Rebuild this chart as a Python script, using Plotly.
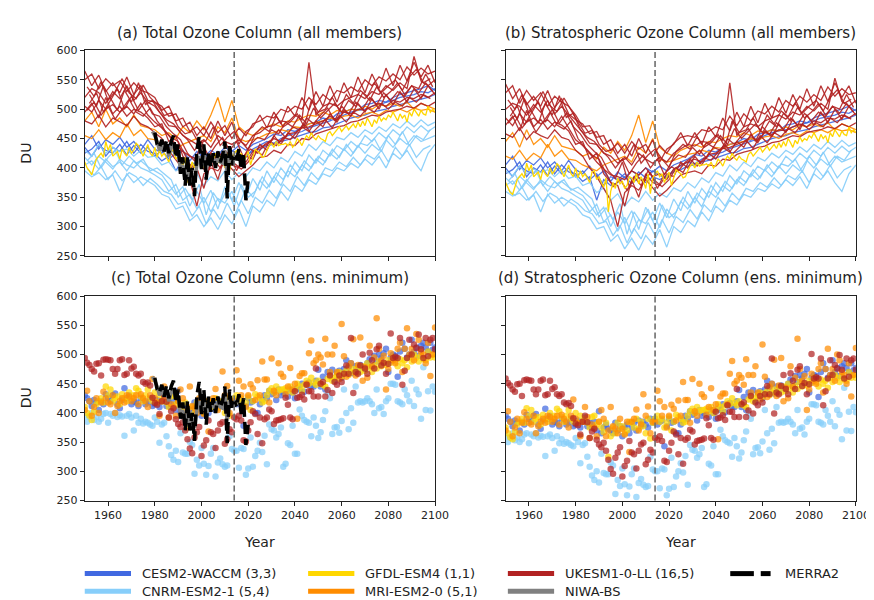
import plotly.graph_objects as go

W, H = 874, 600
years = list(range(1950, 2101))
years3 = list(range(1950, 2101, 3))
years3b = list(range(1951, 2101, 3))
years3c = list(range(1952, 2101, 3))

model_names = ["CESM2-WACCM (3,3)", "CNRM-ESM2-1 (5,4)", "GFDL-ESM4 (1,1)", "MRI-ESM2-0 (5,1)", "UKESM1-0-LL (16,5)", "NIWA-BS", "MERRA2"]
colors = {"CESM": "#4169E1", "CNRM": "#87CEFA", "GFDL": "#FFD700", "MRI": "#FF8C00", "UKESM": "#B22222", "NIWA": "#808080", "MERRA2": "#000000"}

# ---------------- panel (a): total column, members (every 3 years) ----------------
ukesm_tot_members = [
    [550,560,535,552,540,548,530,545,532,528,520,498,505,480,485,462,470,455,478,460,472,450,468,455,475,480,488,485,500,495,505,500,520,508,525,515,532,528,538,530,550,540,555,548,560,550,572,558,570,560,565],
    [520,535,528,510,530,518,540,515,528,512,505,490,472,470,455,448,440,448,435,455,445,440,448,438,455,460,470,472,480,478,490,482,580,490,505,510,505,515,520,525,518,530,525,540,532,545,535,590,548,540,550],
    [505,495,515,500,508,495,505,492,510,490,478,468,455,440,428,420,415,410,425,418,430,415,420,410,428,435,440,450,445,458,460,468,470,475,480,488,482,495,492,500,498,505,510,505,515,512,520,518,525,520,528],
    [480,475,490,470,485,478,472,488,475,470,460,450,430,415,398,380,335,390,400,395,410,398,385,395,405,418,420,430,425,440,438,450,448,458,462,465,470,472,478,480,485,490,488,495,498,500,505,502,510,505,512],
    [565,540,558,530,545,528,555,525,540,515,512,505,488,492,470,478,455,470,450,480,455,478,440,462,470,490,468,495,475,505,488,520,498,530,505,540,512,545,520,555,528,560,535,570,540,575,548,580,555,575,545],
    [495,510,485,520,492,505,488,500,495,485,470,475,445,455,420,405,400,365,410,380,420,405,400,420,415,440,430,455,440,460,450,470,462,480,470,492,478,498,488,510,495,518,500,525,508,530,512,535,518,540,525],
]
ukesm_tot_members_b = [  # sampled on years3b
    [538,522,547,515,530,552,528,518,541,520,508,489,494,470,458,462,441,447,470,438,452,462,445,431,458,470,462,488,470,478,492,470,515,495,500,520,498,525,510,532,522,545,528,540,550,532,555,568,545,552],
    [498,512,490,505,483,500,517,495,488,502,480,465,452,445,420,398,410,392,415,400,425,408,398,410,430,422,445,438,452,448,462,475,458,470,482,468,490,478,495,488,502,495,510,500,512,505,520,512,525,518],
]
ukesm_tot_members_c = [  # sampled on years3c
    [525,505,540,518,498,532,512,545,508,515,495,482,475,460,448,430,445,420,438,452,430,445,418,440,452,448,465,458,478,470,490,475,502,485,498,510,495,515,505,528,515,538,520,530,545,525,540,535,560,538],
    [510,528,495,515,535,500,522,498,515,492,488,470,458,448,425,412,440,398,418,405,422,395,420,432,425,440,448,465,452,470,465,485,475,490,502,480,505,492,512,500,520,508,528,515,530,522,540,528,545,530],
]
cnrm_tot_members = [
    [430,420,440,425,435,428,432,420,430,418,420,405,410,395,400,380,390,370,385,378,395,380,392,385,400,395,410,400,418,410,428,420,440,430,445,438,452,448,460,452,465,458,470,462,475,468,480,470,482,472,478],
    [405,412,398,415,402,410,395,412,400,395,388,380,360,372,345,355,330,350,325,348,340,360,335,365,350,378,365,385,370,395,385,405,395,415,405,425,415,432,420,438,425,440,430,448,435,450,440,455,445,450,455],
    [395,385,392,380,388,360,390,375,385,378,370,355,350,330,335,310,320,300,315,295,320,305,330,300,335,325,345,335,360,345,370,360,380,372,390,385,400,395,408,400,415,405,420,400,425,415,430,410,395,425,440],
    [418,405,420,410,398,415,405,400,412,402,395,388,372,355,368,335,360,340,362,330,368,345,375,350,382,362,395,375,400,385,410,395,422,408,430,420,438,430,445,435,455,445,460,450,465,455,470,460,472,462,470],
]
cnrm_tot_members_b = [
    [412,425,400,418,430,405,420,408,415,395,400,390,380,350,365,345,372,320,358,340,365,335,372,350,360,385,368,392,380,405,390,412,400,420,410,432,418,440,425,442,438,450,428,455,440,462,438,455,448,465],
    [398,388,402,380,395,378,392,385,370,382,372,360,355,338,342,318,335,305,330,312,340,318,345,322,350,340,362,348,372,360,385,370,392,380,400,395,410,402,418,405,422,415,430,410,435,420,440,418,432,438],
]
cesm_tot_members = [
    [440,455,432,448,440,452,435,445,430,448,432,425,438,420,430,412,428,418,430,422,435,428,438,430,440,445,450,458,455,465,462,470,475,478,485,482,492,495,500,498,508,510,515,512,520,525,528,532,535,540,532],
    [425,432,445,420,435,428,445,425,440,428,425,412,420,395,415,405,410,420,408,418,410,420,415,422,428,432,438,440,445,448,452,455,460,462,468,470,475,480,485,488,490,495,498,500,505,508,512,515,518,520,525],
    [435,420,438,430,425,440,422,438,425,435,420,430,415,425,405,420,415,425,415,428,418,430,422,418,432,438,445,442,450,455,458,462,468,472,475,480,485,490,495,498,500,505,508,512,515,520,522,525,530,528,535],
]
mri_tot_members = [
    [480,495,470,500,475,485,470,490,472,468,465,455,460,450,470,460,480,465,490,520,478,515,470,460,455,465,470,475,470,480,478,485,490,488,495,490,498,495,500,498,505,500,508,505,510,505,512,500,510,505,500],
    [455,450,465,448,460,452,475,455,465,450,448,440,435,430,440,445,450,455,445,470,460,485,450,445,448,452,458,460,465,462,470,468,475,478,480,485,482,488,490,485,492,495,490,498,495,500,495,502,498,500,495],
]

# ---------------- panel (b): stratospheric column, members (every 3 years) ----------------
ukesm_str_members = [
    [528,540,510,532,515,528,505,522,512,505,490,470,472,452,455,430,442,425,445,432,440,420,438,425,442,452,455,452,465,462,470,465,488,472,492,480,497,492,505,495,515,505,522,512,525,515,538,522,535,525,528],
    [500,510,505,490,508,495,515,492,505,490,475,460,442,440,425,420,408,418,405,425,415,408,418,410,425,432,440,437,445,443,455,447,545,455,470,475,470,480,485,490,483,495,490,505,497,510,500,553,513,505,515],
    [485,472,492,478,485,475,482,470,488,468,448,438,425,410,398,388,385,380,395,388,400,385,390,380,398,405,410,415,410,423,425,433,435,440,445,453,447,460,457,465,463,470,475,470,480,477,485,483,490,485,493],
    [458,452,468,448,462,455,450,465,452,448,430,420,400,385,365,345,300,358,370,362,380,365,352,362,375,388,392,395,390,405,403,415,413,423,427,430,435,437,443,445,450,455,453,460,463,465,470,467,475,470,477],
    [543,518,535,508,522,505,532,503,518,492,482,475,458,462,440,448,425,440,420,450,425,448,410,432,440,460,438,460,440,470,453,485,463,495,470,505,477,510,485,520,493,525,500,535,505,540,513,545,520,540,510],
    [473,488,463,498,470,483,466,478,473,463,440,445,415,425,390,375,370,335,380,350,390,375,370,390,385,410,400,420,405,425,415,435,427,445,435,457,443,463,453,475,460,483,465,490,473,495,477,500,483,505,490],
]
ukesm_str_members_b = [
    [516,500,525,493,508,530,506,496,519,498,478,459,464,440,428,432,411,417,440,408,422,432,415,401,428,440,432,453,435,443,457,435,480,460,465,485,463,490,475,497,487,510,493,505,515,497,520,533,510,517],
    [476,490,468,483,461,478,495,473,466,480,450,435,422,415,390,368,380,362,385,370,395,378,368,380,400,392,415,403,417,413,427,440,423,435,447,433,455,443,460,453,467,460,475,465,477,470,485,477,490,483],
]
ukesm_str_members_c = [
    [503,483,518,496,476,510,490,523,486,493,465,452,445,430,418,400,415,390,408,422,400,415,388,410,422,418,435,423,443,435,455,440,467,450,463,475,460,480,470,493,480,503,485,495,510,490,505,500,525,503],
    [488,506,473,493,513,478,500,476,493,470,458,440,428,418,395,382,410,368,388,375,392,365,390,402,395,410,418,430,417,435,430,450,440,455,467,445,470,457,477,465,485,473,493,480,495,487,505,493,510,495],
]
cnrm_str_members = [
    [395,387,403,390,398,392,397,385,396,382,386,370,375,358,366,345,356,335,350,342,360,345,357,350,366,360,375,366,383,375,392,386,405,395,410,402,418,412,425,417,430,423,436,427,440,432,445,435,447,437,443],
    [370,378,362,380,366,376,360,377,365,360,352,345,325,338,308,320,292,316,288,312,305,325,298,330,315,343,330,350,334,360,350,370,360,380,370,390,380,397,385,403,390,405,395,413,400,415,405,420,410,415,420],
    [360,352,357,345,354,325,355,340,350,343,335,320,315,296,300,275,286,262,280,260,285,270,295,265,300,290,310,300,325,310,335,325,345,337,355,350,365,360,373,365,380,370,385,365,390,380,395,375,360,390,405],
    [383,372,386,375,363,380,370,366,377,367,360,353,337,320,333,300,325,305,327,295,333,310,340,315,347,327,360,340,365,350,375,360,387,373,395,385,403,395,410,400,420,410,425,415,430,420,435,425,437,427,435],
]
cnrm_str_members_b = [
    [377,390,365,383,395,370,385,373,380,362,367,357,347,317,332,312,339,287,325,307,330,300,337,315,325,350,333,357,345,370,355,377,365,385,375,397,383,405,390,407,403,415,393,420,405,427,403,420,413,430],
    [363,353,367,345,360,343,357,350,335,347,339,327,322,305,309,285,302,272,297,279,307,285,312,289,317,307,329,313,337,325,350,335,357,345,365,360,375,367,383,370,387,380,395,375,400,385,405,383,397,403],
]
cesm_str_members = [
    [405,420,397,413,405,417,400,410,395,413,397,390,403,385,395,377,393,383,395,387,400,393,403,395,405,410,415,423,420,430,427,435,440,443,450,447,457,460,465,463,473,475,480,477,485,490,493,497,500,505,497],
    [390,397,410,385,400,393,410,390,405,393,390,377,385,345,380,370,375,385,373,383,375,385,380,387,393,397,403,405,410,413,417,420,425,427,433,435,440,445,450,453,455,460,463,465,470,473,477,480,483,485,490],
    [400,385,403,395,390,405,387,403,390,400,385,395,380,390,370,385,380,390,380,393,383,395,387,383,397,403,410,407,415,420,423,427,433,437,440,445,450,455,460,463,465,470,473,477,480,485,487,490,495,493,500],
]
mri_str_members = [
    [445,460,435,465,440,450,435,455,437,433,430,420,425,415,435,425,445,430,455,490,443,480,435,425,420,430,435,440,435,445,443,450,455,453,460,455,463,460,465,463,470,465,473,470,475,470,477,465,475,470,465],
    [420,415,430,413,425,417,440,420,430,415,413,405,400,395,405,410,415,420,410,435,425,450,415,410,413,417,423,425,430,427,435,433,440,443,445,450,447,453,455,450,457,460,455,463,460,465,460,467,463,465,460],
]

# ---------------- panel (c): total column, ensemble minimum (yearly) ----------------
cesm_tot_min = [430,425,420,412,422,418,405,420,415,432,425,420,430,433,415,408,422,442,425,430,
    415,420,418,412,425,422,415,418,425,412,415,422,410,420,427,412,418,410,420,405,
    438,400,410,415,408,405,400,418,405,412,395,410,415,400,410,418,405,422,412,420,
    415,410,425,418,425,415,420,422,378,412,425,418,420,400,400,415,422,430,425,438,
    432,435,422,440,430,435,438,428,440,435,425,442,440,450,436,448,452,446,445,455,
    474,445,462,440,470,465,474,455,468,472,460,475,490,478,485,468,480,470,482,478,
    475,485,492,480,498,488,500,494,502,510,470,495,500,498,462,505,520,510,495,500,
    525,505,512,498,515,520,512,505,520,508,512]
cnrm_tot_min = [395,385,393,400,388,393,385,390,398,400,383,398,395,400,393,396,394,361,395,398,
    392,370,395,383,390,382,385,383,380,378,392,385,349,380,383,360,343,328,320,335,
    316,365,332,330,330,350,345,296,320,310,340,313,294,309,330,340,291,315,322,312,
    308,310,360,338,335,335,306,340,338,294,305,358,308,326,335,349,333,361,312,380,
    372,370,358,364,375,308,313,348,345,378,330,330,406,395,388,385,383,360,392,378,
    357,367,388,403,435,425,364,375,376,366,386,440,400,372,408,383,445,418,420,418,
    420,425,420,415,400,440,408,410,398,420,425,450,450,448,420,418,415,440,430,420,
    455,412,440,432,390,478,405,437,404,445,436]
gfdl_tot = [410,400,395,388,402,415,420,425,418,445,430,440,420,425,428,415,432,425,420,435,
    425,430,442,438,428,420,430,440,425,420,435,418,430,420,425,418,410,428,430,415,
    420,410,402,418,375,395,410,400,418,408,412,400,405,420,418,410,425,408,420,412,
    400,425,395,418,425,430,420,425,410,418,428,405,420,432,428,425,418,420,430,438,
    442,435,445,438,440,440,442,438,445,435,440,450,445,438,448,455,450,460,452,448,
    455,450,448,445,458,462,455,460,465,470,462,468,472,465,470,475,468,478,470,480,
    472,485,478,470,482,476,488,480,485,482,490,486,495,488,480,492,485,490,478,495,
    488,500,495,488,498,492,490,505,495,500,495]
mri_tot_min = [405,438,420,395,410,425,400,418,436,425,418,415,430,400,412,420,425,418,430,428,
    420,425,430,415,432,425,420,410,430,458,425,418,395,420,445,428,392,415,410,395,
    420,440,425,395,405,445,412,408,400,425,408,398,420,368,420,425,441,405,415,471,
    430,446,400,420,420,473,455,430,445,410,430,449,442,422,456,430,488,457,457,418,
    493,438,430,485,467,462,432,445,477,440,450,390,463,468,468,450,502,524,485,490,
    500,495,483,527,500,470,500,515,470,458,552,497,462,480,485,526,464,482,529,455,
    478,460,515,480,495,562,510,490,498,440,475,502,490,485,510,520,470,510,545,500,
    510,490,535,525,505,500,485,520,463,500,546]
ukesm_tot_min = [494,486,482,475,471,484,485,464,491,492,491,490,475,467,475,490,492,465,467,490,
    476,479,467,464,467,453,450,452,447,426,417,414,398,420,430,419,392,403,408,389,
    381,376,384,370,355,339,331,358,367,376,326,344,353,387,367,364,340,370,381,384,
    347,355,372,367,392,389,395,387,353,351,370,384,403,398,364,392,348,389,392,406,
    403,381,387,388,389,391,426,414,392,389,437,426,427,431,423,448,437,437,428,476,
    428,450,453,428,439,464,434,453,448,464,453,467,481,467,528,434,470,467,481,500,
    476,467,503,490,476,509,515,481,486,467,484,536,494,496,494,528,448,472,494,525,
    500,517,511,534,509,494,528,497,525,528,509]

# ---------------- panel (d): stratospheric column, ensemble minimum (yearly) ----------------
cesm_str_min = [395,390,385,377,387,383,370,385,380,397,390,385,395,398,380,373,387,407,390,395,
    380,385,383,377,390,387,380,383,390,377,380,387,375,385,392,377,383,375,385,370,
    403,365,375,380,373,370,365,383,370,377,360,375,380,365,375,383,370,387,377,385,
    380,375,390,383,390,380,385,387,343,377,390,383,385,365,365,380,387,395,390,403,
    397,400,387,405,395,400,403,393,405,400,390,407,405,415,401,413,417,411,410,420,
    439,410,427,405,435,430,439,420,433,437,425,440,455,443,450,433,445,435,447,443,
    440,450,457,445,463,453,465,459,467,475,435,460,465,463,427,470,485,475,460,465,
    490,470,477,463,480,485,477,470,485,473,477]
cnrm_str_min = [360,350,358,365,353,358,350,355,363,365,348,363,360,365,358,361,359,326,360,363,
    357,335,360,348,355,347,350,348,345,343,357,350,314,345,348,325,308,293,285,300,
    281,330,297,295,295,315,310,261,285,275,305,278,259,274,295,305,256,280,287,277,
    273,275,325,303,300,300,271,305,303,259,270,323,273,291,300,314,298,326,277,345,
    337,335,323,329,340,273,278,313,310,343,295,295,371,360,353,350,348,325,357,343,
    322,332,353,368,400,390,329,340,341,331,351,405,365,337,373,348,410,383,385,383,
    385,390,385,380,365,405,373,375,363,385,390,415,415,413,385,383,380,405,395,385,
    420,377,405,397,355,443,370,402,369,410,401]
gfdl_str = [375,365,358,355,367,380,385,390,383,408,395,405,385,390,393,380,397,390,385,400,
    390,395,407,403,393,385,395,405,390,385,400,383,395,385,390,383,375,393,395,380,
    385,375,367,383,325,360,375,365,383,373,377,365,370,385,383,375,390,373,385,377,
    365,390,356,383,390,395,385,390,375,383,393,370,385,397,393,390,383,385,395,403,
    407,400,410,403,405,405,407,403,410,400,405,415,410,403,413,420,415,425,417,413,
    420,415,413,410,423,427,420,425,430,435,427,433,437,430,435,440,433,443,435,445,
    437,450,443,435,447,441,453,445,450,447,455,451,460,453,445,457,450,455,443,460,
    453,465,460,453,463,457,455,470,460,465,460]
mri_str_min = [370,403,385,360,375,390,365,383,401,390,383,380,395,365,377,385,390,383,395,393,
    385,390,395,380,397,390,385,375,395,423,390,383,360,385,410,393,357,380,375,360,
    385,405,390,360,370,410,377,373,365,390,373,363,385,333,385,390,406,370,380,432,
    395,411,365,385,385,438,420,395,410,375,395,414,407,387,421,395,453,422,422,383,
    458,403,395,450,432,427,397,410,442,405,415,355,428,433,433,415,467,489,450,455,
    465,460,448,492,465,435,465,480,435,423,517,462,427,445,450,491,429,447,494,420,
    443,425,480,445,460,527,475,455,463,405,440,467,455,450,475,485,435,475,510,465,
    475,455,500,490,470,465,450,485,428,465,511]
ukesm_str_min = [459,451,447,440,436,449,450,429,456,457,456,455,440,432,440,455,457,430,432,455,
    441,444,432,429,432,418,415,417,412,391,382,379,363,385,395,384,357,368,373,354,
    346,341,349,335,320,304,296,323,332,341,291,309,318,352,332,329,305,335,346,349,
    312,320,337,332,357,354,360,352,318,316,335,349,368,363,329,357,313,354,357,371,
    368,346,352,353,354,356,391,379,357,354,402,391,392,396,388,413,402,402,393,441,
    393,415,418,393,404,429,399,418,413,429,418,432,446,432,493,399,435,432,446,465,
    441,432,468,455,441,474,480,446,451,432,449,501,459,461,459,493,413,437,459,490,
    465,482,476,499,474,459,493,462,490,493,474]

# ---------------- observations ----------------
niwa_years = list(range(1979, 2017))
niwa_tot = [462,455,445,430,440,428,438,420,435,440,425,430,395,405,380,400,372,390,375,405,
    420,400,425,395,415,410,415,405,418,410,408,430,385,425,410,415,420,418]
merra_years = list(range(1980, 2021))
merra_tot = [460,440,435,448,428,447,425,445,455,418,440,390,418,370,420,370,400,352,430,453,
    398,440,380,428,402,425,400,428,410,420,445,348,440,405,420,410,432,398,425,345,380]

ref_year = 2014

# ---------------- layout geometry ----------------
def px(x): return x / W
def py(y): return 1 - y / H

xdom_l = [px(78), px(434)]
xdom_r = [px(505.7), px(861.7)]
ydom_t = [py(247.3), py(37.3)]
ydom_b = [py(497.3), py(288.3)]

fig = go.Figure()

def add_lines(members, xs, col, xa, ya, width=1.3, opacity=0.9):
    for m in members:
        fig.add_trace(go.Scatter(x=xs[:len(m)], y=m, mode="lines", xaxis=xa, yaxis=ya,
                                 line=dict(color=col, width=width), opacity=opacity,
                                 showlegend=False, hoverinfo="skip"))

def add_dots(vals, col, xa, ya):
    fig.add_trace(go.Scatter(x=years[:len(vals)], y=vals, mode="markers", xaxis=xa, yaxis=ya,
                             marker=dict(color=col, size=6.5, opacity=0.72, line=dict(width=0)),
                             showlegend=False, hoverinfo="skip"))

# panel (a)
add_lines(cesm_tot_members, years3, colors["CESM"], "x", "y")
add_lines(cnrm_tot_members, years3, colors["CNRM"], "x", "y")
add_lines(cnrm_tot_members_b, years3b, colors["CNRM"], "x", "y")
add_lines(mri_tot_members, years3, colors["MRI"], "x", "y")
add_lines(ukesm_tot_members, years3, colors["UKESM"], "x", "y")
add_lines(ukesm_tot_members_b, years3b, colors["UKESM"], "x", "y")
add_lines(ukesm_tot_members_c, years3c, colors["UKESM"], "x", "y")
add_lines([gfdl_tot], years, colors["GFDL"], "x", "y", width=1.3, opacity=1)
# panel (b)
add_lines(cesm_str_members, years3, colors["CESM"], "x2", "y2")
add_lines(cnrm_str_members, years3, colors["CNRM"], "x2", "y2")
add_lines(cnrm_str_members_b, years3b, colors["CNRM"], "x2", "y2")
add_lines(mri_str_members, years3, colors["MRI"], "x2", "y2")
add_lines(ukesm_str_members, years3, colors["UKESM"], "x2", "y2")
add_lines(ukesm_str_members_b, years3b, colors["UKESM"], "x2", "y2")
add_lines(ukesm_str_members_c, years3c, colors["UKESM"], "x2", "y2")
add_lines([gfdl_str], years, colors["GFDL"], "x2", "y2", width=1.3, opacity=1)
# panel (c)
for v, k in [(cesm_tot_min, "CESM"), (cnrm_tot_min, "CNRM"), (gfdl_tot, "GFDL"), (mri_tot_min, "MRI"), (ukesm_tot_min, "UKESM")]:
    add_dots(v, colors[k], "x3", "y3")
# panel (d)
for v, k in [(cesm_str_min, "CESM"), (cnrm_str_min, "CNRM"), (gfdl_str, "GFDL"), (mri_str_min, "MRI"), (ukesm_str_min, "UKESM")]:
    add_dots(v, colors[k], "x4", "y4")

# observations in total-column panels
for xa, ya in [("x", "y"), ("x3", "y3")]:
    fig.add_trace(go.Scatter(x=niwa_years, y=niwa_tot, mode="lines", xaxis=xa, yaxis=ya,
                             line=dict(color=colors["NIWA"], width=3.5), showlegend=False, hoverinfo="skip"))
    fig.add_trace(go.Scatter(x=merra_years, y=merra_tot, mode="lines", xaxis=xa, yaxis=ya,
                             line=dict(color=colors["MERRA2"], width=3.5, dash="12px,5px"), showlegend=False, hoverinfo="skip"))

font = "DejaVu Sans, Arial, sans-serif"
axis_common = dict(showline=True, linecolor="#222", linewidth=1, mirror=True, ticks="outside",
                   ticklen=4, tickwidth=1, tickcolor="#222", showgrid=False, zeroline=False,
                   tickfont=dict(family=font, size=11, color="#222"))
xticks = [1960, 1980, 2000, 2020, 2040, 2060, 2080, 2100]
yticks = [250, 300, 350, 400, 450, 500, 550, 600]

layout_axes = {}
specs = [("", xdom_l, ydom_t, False, True), ("2", xdom_r, ydom_t, False, False),
         ("3", xdom_l, ydom_b, True, True), ("4", xdom_r, ydom_b, True, False)]
for s, xd, yd, showx, showy in specs:
    layout_axes["xaxis" + s] = dict(axis_common, domain=xd, range=[1950, 2100], tickvals=xticks,
                                    showticklabels=showx, anchor="y" + s)
    layout_axes["yaxis" + s] = dict(axis_common, domain=yd, range=[250, 600], tickvals=yticks,
                                    showticklabels=showy, anchor="x" + s)
fig.update_layout(**layout_axes)

shapes = []
for s in ["", "2", "3", "4"]:
    shapes.append(dict(type="line", xref="x" + s, yref="y" + s + " domain", x0=ref_year, x1=ref_year,
                       y0=0, y1=1, line=dict(color="#6e6e6e", width=1.6, dash="6px,3px"), layer="above"))

annotations = []
titles = [("(a) Total Ozone Column (all members)", 256, 19), ("(b) Stratospheric Ozone Column (all members)", 683.7, 19),
          ("(c) Total Ozone Column (ens. minimum)", 256, 270), ("(d) Stratospheric Ozone Column (ens. minimum)", 683, 270)]
for t, x, y in titles:
    annotations.append(dict(text=t, x=px(x), y=py(y), xref="paper", yref="paper", showarrow=False,
                            xanchor="center", yanchor="middle", font=dict(family=font, size=15, color="#222")))
for y in [142, 392]:
    annotations.append(dict(text="DU", x=px(18), y=py(y), xref="paper", yref="paper", showarrow=False,
                            textangle=-90, xanchor="center", yanchor="middle", font=dict(family=font, size=14, color="#222")))
for x in [256, 683.7]:
    annotations.append(dict(text="Year", x=px(x), y=py(540), xref="paper", yref="paper", showarrow=False,
                            xanchor="center", yanchor="middle", font=dict(family=font, size=14, color="#222")))

# legend (manual, column-major like the reference)
row1, row2 = 572, 590
legend_items = [
    (model_names[0], colors["CESM"], 78, row1, "solid"),
    (model_names[1], colors["CNRM"], 78, row2, "solid"),
    (model_names[2], colors["GFDL"], 305, row1, "solid"),
    (model_names[3], colors["MRI"], 305, row2, "solid"),
    (model_names[4], colors["UKESM"], 508, row1, "solid"),
    (model_names[5], colors["NIWA"], 508, row2, "solid"),
    (model_names[6], colors["MERRA2"], 734, row1, "dash"),
]
for name, col, x, y, style in legend_items:
    if style == "solid":
        shapes.append(dict(type="line", xref="paper", yref="paper", x0=px(x), x1=px(x + 47), y0=py(y), y1=py(y),
                           line=dict(color=col, width=5)))
        tx = x + 56
    else:
        shapes.append(dict(type="line", xref="paper", yref="paper", x0=px(x), x1=px(x + 24), y0=py(y), y1=py(y),
                           line=dict(color=col, width=5)))
        shapes.append(dict(type="line", xref="paper", yref="paper", x0=px(x + 31), x1=px(x + 41), y0=py(y), y1=py(y),
                           line=dict(color=col, width=5)))
        tx = x + 54
    annotations.append(dict(text=name, x=px(tx), y=py(y), xref="paper", yref="paper", showarrow=False,
                            xanchor="left", yanchor="middle", font=dict(family=font, size=13, color="#222")))

fig.update_layout(width=W, height=H, margin=dict(l=0, r=0, t=0, b=0), plot_bgcolor="white",
                  paper_bgcolor="white", showlegend=False, shapes=shapes, annotations=annotations)

fig.write_html("out.html")
